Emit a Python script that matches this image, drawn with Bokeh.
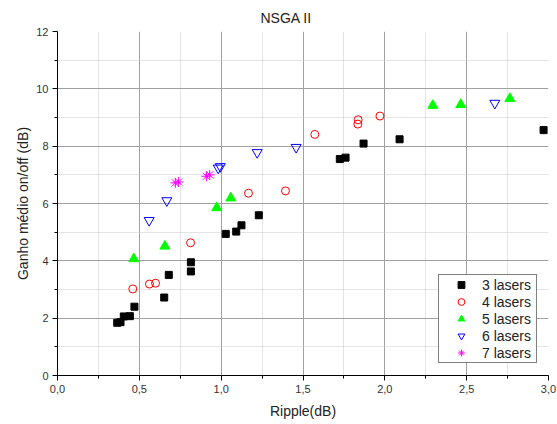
from bokeh.plotting import figure
from bokeh.models import FixedTicker, CustomJSTickFormatter, Legend, LegendItem, Range1d
from bokeh.embed import file_html
from bokeh.resources import INLINE

x3 = [0.365, 0.385, 0.405, 0.442, 0.47, 0.652, 0.68, 0.815, 0.815, 1.028, 1.092, 1.124, 1.23,
      1.725, 1.76, 1.87, 2.09, 2.97]
y3 = [1.84, 1.86, 2.06, 2.07, 2.40, 2.72, 3.51, 3.95, 3.63, 4.94, 5.02, 5.24, 5.59,
      7.55, 7.60, 8.09, 8.24, 8.56]
x4 = [0.46, 0.562, 0.599, 0.813, 1.167, 1.393, 1.572, 1.835, 1.837, 1.97]
y4 = [3.02, 3.19, 3.22, 4.63, 6.36, 6.44, 8.41, 8.77, 8.92, 9.05]
x5 = [0.466, 0.656, 0.973, 1.059, 2.293, 2.464, 2.764]
y5 = [4.07, 4.51, 5.85, 6.19, 9.42, 9.45, 9.66]
x6 = [0.56, 0.668, 0.982, 0.995, 1.22, 1.458, 2.672]
y6 = [5.41, 6.10, 7.24, 7.29, 7.78, 7.96, 9.50]
x7 = [0.72, 0.74, 0.91, 0.93]
y7 = [6.72, 6.75, 6.95, 7.00]

x_major = [0.0, 0.5, 1.0, 1.5, 2.0, 2.5, 3.0]
x_minor = [0.25, 0.75, 1.25, 1.75, 2.25, 2.75]
y_major = [0, 2, 4, 6, 8, 10, 12]
y_minor = [1, 3, 5, 7, 9, 11]
labels = ["3 lasers", "4 lasers", "5 lasers", "6 lasers", "7 lasers"]

FONT = "Liberation Sans"

p = figure(width=557, height=424, output_backend="svg", toolbar_location=None,
           x_range=Range1d(0, 3), y_range=Range1d(0, 12),
           min_border_left=57, min_border_right=9, min_border_top=31, min_border_bottom=49,
           title="NSGA II")
p.outline_line_color = None
p.title.align = "left"
p.title.offset = 203
p.title.text_font = FONT
p.title.text_font_size = "14px"
p.title.text_font_style = "normal"
p.title.text_color = "#222222"
p.title.standoff = 12

for ax, maj, mnr, lab in [(p.xaxis[0], x_major, x_minor, "Ripple(dB)"),
                          (p.yaxis[0], y_major, y_minor, "Ganho médio on/off (dB)")]:
    ax.ticker = FixedTicker(ticks=maj, minor_ticks=mnr)
    ax.axis_label = lab
    ax.axis_label_text_font = FONT
    ax.axis_label_text_font_size = "14px"
    ax.axis_label_text_font_style = "normal"
    ax.axis_label_text_color = "#222222"
    ax.major_label_text_font = FONT
    ax.major_label_text_font_size = "11px"
    ax.major_label_text_color = "#333333"
    ax.axis_line_color = "black"
    ax.major_tick_line_color = "black"
    ax.minor_tick_line_color = "black"
    ax.major_tick_out = 5
    ax.major_tick_in = 0
    ax.minor_tick_out = 3
    ax.minor_tick_in = 0
    ax.major_label_standoff = 4

p.xaxis[0].formatter = CustomJSTickFormatter(code="return tick.toFixed(1).replace('.', ',');")
p.yaxis[0].formatter = CustomJSTickFormatter(code="return tick.toFixed(0);")
p.xaxis[0].axis_label_standoff = 7
p.yaxis[0].axis_label_standoff = 2

p.xgrid.ticker = FixedTicker(ticks=x_major, minor_ticks=x_minor)
p.ygrid.ticker = FixedTicker(ticks=[2, 4, 6, 8, 10], minor_ticks=y_minor)
for g in (p.xgrid[0], p.ygrid[0]):
    g.grid_line_color = "#a0a0a0"
    g.grid_line_width = 1
    g.minor_grid_line_color = "#c8c8c8"
    g.minor_grid_line_dash = "1 1"

r3 = p.scatter(x3, y3, marker="square", size=7, fill_color="black", line_color="black")
r4 = p.scatter(x4, y4, marker="circle", size=8, fill_color=None, line_color="#ff0000", line_width=1)
r5 = p.scatter(x5, y5, marker="triangle", size=10, fill_color="#00ff00", line_color="#00ff00")
r6 = p.scatter(x6, y6, marker="inverted_triangle", size=10, fill_color=None, line_color="#0000ff", line_width=1)
r7 = p.scatter(x7, y7, marker="asterisk", size=10, line_color="#ff00ff", line_width=1)

legend = Legend(items=[LegendItem(label=l, renderers=[r]) for l, r in zip(labels, [r3, r4, r5, r6, r7])],
                location=(381, 12), padding=1, margin=0, spacing=0,
                glyph_width=42, glyph_height=17, label_height=17, label_width=53, label_standoff=0,
                label_text_font=FONT, label_text_font_size="14px", label_text_color="#222222",
                border_line_color="black", border_line_width=1, background_fill_color="white",
                background_fill_alpha=1)
p.add_layout(legend, "center")

open("out.html", "w").write(file_html(p, INLINE))
